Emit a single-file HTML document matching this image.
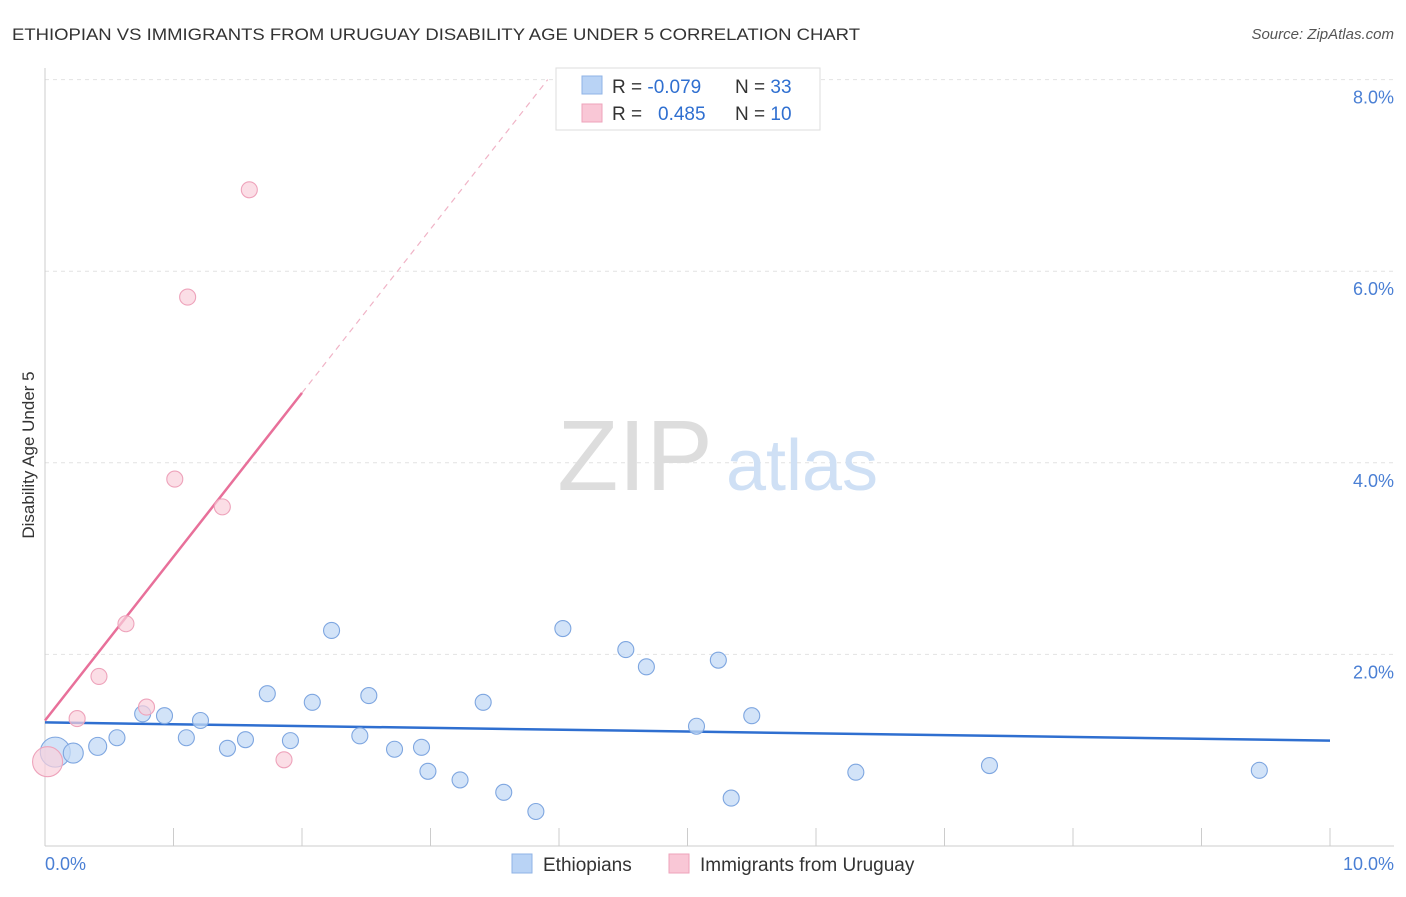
<!DOCTYPE html>
<html><head><meta charset="utf-8">
<style>
body{margin:0;background:#fff;font-family:"Liberation Sans",sans-serif;}
svg text{font-family:"Liberation Sans",sans-serif;}
</style></head>
<body>
<svg id="chart" width="1406" height="892" xmlns="http://www.w3.org/2000/svg">
<text x="12" y="40" font-size="17" fill="#333" textLength="848" lengthAdjust="spacingAndGlyphs">ETHIOPIAN VS IMMIGRANTS FROM URUGUAY DISABILITY AGE UNDER 5 CORRELATION CHART</text>
<text x="1394" y="39" font-size="15" fill="#555" text-anchor="end" font-style="italic">Source: ZipAtlas.com</text>
<g id="grid"></g>
<g>
<text x="635" y="490" font-size="100" fill="#ddd" text-anchor="middle" font-family="Liberation Serif">ZIP</text>
<text x="802" y="490" font-size="72" fill="#cfe0f5" text-anchor="middle">atlas</text>
</g>
<g id="axes"></g>
<g id="lines"></g>
<g id="points"></g>
<text transform="translate(34,455) rotate(-90)" font-size="17" fill="#333" text-anchor="middle">Disability Age Under 5</text>
<text x="45" y="870" font-size="18" fill="#4a7fd4">0.0%</text>
<text x="1394" y="870" font-size="18" fill="#4a7fd4" text-anchor="end">10.0%</text>
<g>
<rect x="556" y="68" width="264" height="62" fill="#fff" stroke="#ddd"/>
<rect x="582" y="76" width="20" height="18" fill="#b9d3f5" stroke="#8fb3e6"/>
<rect x="582" y="104" width="20" height="18" fill="#f9c7d6" stroke="#eea3bb"/>
<text x="612" y="93" font-size="19" fill="#333">R = <tspan fill="#2f6fd0">-0.079</tspan><tspan x="735">N = </tspan><tspan fill="#2f6fd0">33</tspan></text>
<text x="612" y="120" font-size="19" fill="#333">R = <tspan x="658" fill="#2f6fd0">0.485</tspan><tspan x="735">N = </tspan><tspan fill="#2f6fd0">10</tspan></text>
</g>
<g>
<rect x="512" y="854" width="20" height="19" fill="#b9d3f5" stroke="#8fb3e6"/>
<text x="543" y="871" font-size="19" fill="#333">Ethiopians</text>
<rect x="669" y="854" width="20" height="19" fill="#f9c7d6" stroke="#eea3bb"/>
<text x="700" y="871" font-size="19" fill="#333">Immigrants from Uruguay</text>
</g>
</svg>
<script>
const yTicks=[2,4,6,8];
const yTickLabels=["2.0%","4.0%","6.0%","8.0%"];
const blueX=[0.08,0.22,0.41,0.56,0.76,0.93,1.10,1.21,1.42,1.56,1.73,1.91,2.08,2.23,2.45,2.52,2.72,2.93,2.98,3.23,3.41,3.57,3.82,4.03,4.52,4.68,5.07,5.24,5.34,5.50,6.31,7.35,9.45];
const blueY=[0.98,0.97,1.04,1.13,1.38,1.36,1.13,1.31,1.02,1.11,1.59,1.10,1.50,2.25,1.15,1.57,1.01,1.03,0.78,0.69,1.50,0.56,0.36,2.27,2.05,1.87,1.25,1.94,0.50,1.36,0.77,0.84,0.79];
const blueR=[15,10,9,8,8,8,8,8,8,8,8,8,8,8,8,8,8,8,8,8,8,8,8,8,8,8,8,8,8,8,8,8,8];
const pinkX=[0.02,0.25,0.42,0.63,0.79,1.01,1.11,1.38,1.59,1.86];
const pinkY=[0.88,1.33,1.77,2.32,1.45,3.83,5.73,3.54,6.85,0.90];
const pinkR=[15,8,8,8,8,8,8,8,8,8];
const blueTrend=[1.29,1.10];
const pinkTrend=[1.31,4.73,8.0];
const X=v=>45+v*128.5, Y=v=>846-v*95.8;
const ns="http://www.w3.org/2000/svg";
function mk(t,a,p){const e=document.createElementNS(ns,t);for(const k in a)e.setAttribute(k,a[k]);p.appendChild(e);return e;}
const grid=document.getElementById('grid'),axes=document.getElementById('axes'),lines=document.getElementById('lines'),pts=document.getElementById('points');
yTicks.forEach((t,i)=>{
 const l=mk('line',{x1:45,x2:1394,y1:Y(t),y2:Y(t),stroke:'#e2e2e2','stroke-dasharray':'4,4'},grid);
 
 
 const tx=mk('text',{x:1394,y:Y(t)+24,'font-size':18,fill:'#4a7fd4','text-anchor':'end'},grid);tx.textContent=yTickLabels[i];
 
 
});
mk('line',{x1:45,x2:45,y1:68,y2:846,stroke:'#ccc'},axes);
mk('line',{x1:45,x2:1394,y1:846,y2:846,stroke:'#ccc'},axes);
for(let i=1;i<=10;i++){const t=mk('line',{x1:X(i),x2:X(i),y1:828,y2:846,stroke:'#ccc'},axes);
 
 }
let bl=mk('line',{x1:X(0),y1:Y(blueTrend[0]),x2:X(10),y2:Y(blueTrend[1]),stroke:'#2f6fd0','stroke-width':2.5},lines);


const slope=(pinkTrend[1]-pinkTrend[0])/2, xEnd=(pinkTrend[2]-pinkTrend[0])/slope;
let pl=mk('line',{x1:X(0),y1:Y(pinkTrend[0]),x2:X(2),y2:Y(pinkTrend[1]),stroke:'#e8709a','stroke-width':2.5},lines);


let pd=mk('line',{x1:X(2),y1:Y(pinkTrend[1]),x2:X(xEnd),y2:Y(pinkTrend[2]),stroke:'#f0b3c6','stroke-width':1.2,'stroke-dasharray':'6,5'},lines);


blueX.forEach((v,i)=>{const c=mk('circle',{cx:X(v),cy:Y(blueY[i]),r:blueR[i],fill:'#c3d9f6','fill-opacity':0.75,stroke:'#7ea6e0','stroke-width':1.1},pts);
 
 });
pinkX.forEach((v,i)=>{const c=mk('circle',{cx:X(v),cy:Y(pinkY[i]),r:pinkR[i],fill:'#fad0dc','fill-opacity':0.7,stroke:'#eea3bb','stroke-width':1.1},pts);
 
 });
</script>
</body></html>
